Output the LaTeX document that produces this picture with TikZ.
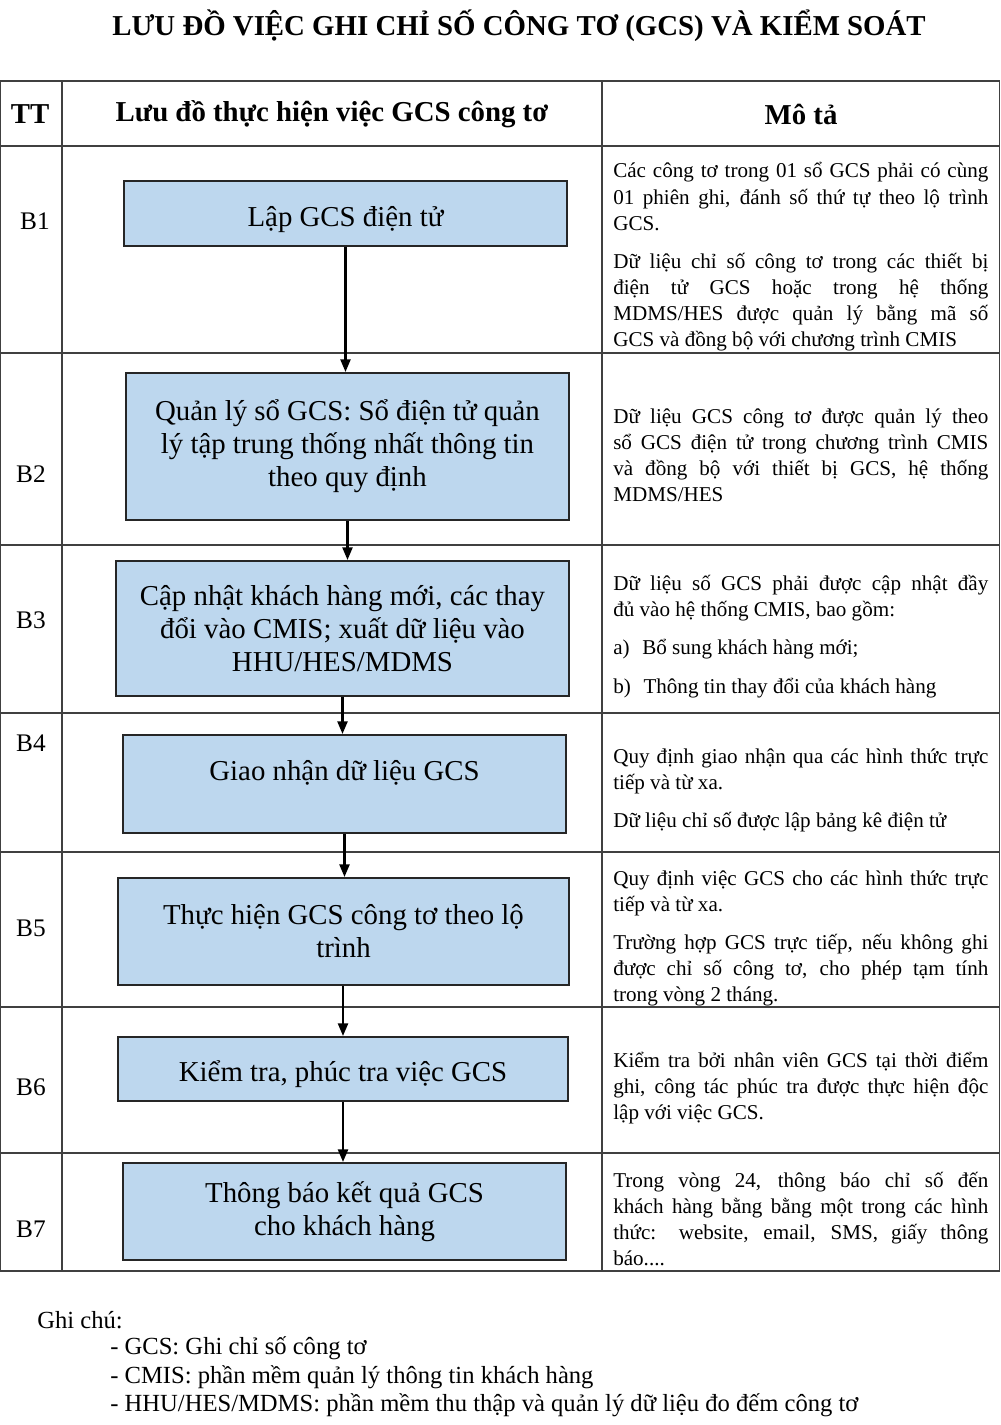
\documentclass[tikz,border=0pt]{standalone}
\usepackage{fontspec}
\setmainfont{Liberation Serif}
\usetikzlibrary{arrows.meta}
\definecolor{boxblue}{HTML}{BDD7EE}
\definecolor{rulegray}{HTML}{404040}

\begin{document}
\begin{tikzpicture}[
    x=0.025cm, y=-0.025cm,
    stepbox/.style={draw=black!85, line width=1.3pt, fill=boxblue, align=center, inner sep=2pt, font=\fontsize{20.5}{23.5}\selectfont},
    lowtext/.style={text height=0.725cm, text depth=0.1cm},
    desc/.style={anchor=base west, text width=9.375cm, align=justify, inner sep=0pt, font=\fontsize{15}{18.5}\selectfont},
    ttlabel/.style={font=\fontsize{18}{20}\selectfont},
    head/.style={font=\bfseries\fontsize{20.5}{22}\selectfont},
    note/.style={anchor=west, inner sep=0pt, font=\fontsize{17.5}{20}\selectfont},
    rule/.style={draw=rulegray, line width=1.2pt},
    flow/.style={draw, line width=1.8pt, -{Triangle[length=9pt,width=7pt]}}
  ]
    \useasboundingbox (0,0) rectangle (1000,1425);

    % title and table
    \node[font=\bfseries\fontsize{20.5}{22}\selectfont] (title) at (519,26) {LƯU ĐỒ VIỆC GHI CHỈ SỐ CÔNG TƠ (GCS) VÀ KIỂM SOÁT};
    \foreach \y in {81,146,353,545,713,852,1007,1153,1271}
      \draw[rule] (0,\y) -- (1000,\y);
    \foreach \x in {0.6,62,602,999.4}
      \draw[rule] (\x,81) -- (\x,1271);

    \node[head] (hTT) at (30,114) {TT};
    \node[head] (hflow) at (332,114) {Lưu đồ thực hiện việc GCS công tơ};
    \node[head] (hdesc) at (801,114) {Mô tả};

    % row labels
    \node[ttlabel] (t1) at (35,221) {B1};
    \node[ttlabel] (t2) at (31,474) {B2};
    \node[ttlabel] (t3) at (31,620) {B3};
    \node[ttlabel] (t4) at (31,743) {B4};
    \node[ttlabel] (t5) at (31,928) {B5};
    \node[ttlabel] (t6) at (31,1087) {B6};
    \node[ttlabel] (t7) at (31,1229) {B7};

    % flow boxes
    \node[stepbox, lowtext, minimum width=11.075cm, minimum height=1.625cm] (b1) at (345.5,213.5) {Lập GCS điện tử};
    \node[stepbox, minimum width=11.075cm, minimum height=3.675cm] (b2) at (347.5,446.5) {Quản lý sổ GCS: Sổ điện tử quản\\lý tập trung thống nhất thông tin\\theo quy định};
    \node[stepbox, minimum width=11.325cm, minimum height=3.375cm] (b3) at (342.5,628.5) {Cập nhật khách hàng mới, các thay\\đổi vào CMIS; xuất dữ liệu vào\\HHU/HES/MDMS};
    \node[stepbox, minimum width=11.075cm, minimum height=2.45cm, text depth=0.68cm] (b4) at (344.5,784) {Giao nhận dữ liệu GCS};
    \node[stepbox, minimum width=11.275cm, minimum height=2.675cm] (b5) at (343.5,931.5) {Thực hiện GCS công tơ theo lộ\\trình};
    \node[stepbox, lowtext, minimum width=11.25cm, minimum height=1.6cm] (b6) at (343,1069) {Kiểm tra, phúc tra việc GCS};
    \node[stepbox, minimum width=11.075cm, minimum height=2.425cm] (b7) at (344.5,1211.5) {Thông báo kết quả GCS\\cho khách hàng};

    \draw[flow] (b1.south) -- (b1.south |- b2.north);
    \draw[flow] (b2.south) -- (b2.south |- b3.north);
    \draw[flow] (b3.south) -- (b3.south |- b4.north);
    \draw[flow] (b4.south) -- (b4.south |- b5.north);
    \draw[flow] (b5.south -| b6.north) -- (b6.north);
    \draw[flow] (b6.south) -- (b6.south |- b7.north);

    % descriptions
    \node[desc] (d1) at (613,178) {Các công tơ trong 01 sổ GCS phải có cùng\linebreak 01 phiên ghi, đánh số thứ tự theo lộ trình\linebreak GCS.\par\vspace{9pt}Dữ liệu chỉ số công tơ trong các thiết bị\linebreak điện tử GCS hoặc trong hệ thống\linebreak MDMS/HES được quản lý bằng mã số\linebreak GCS và đồng bộ với chương trình CMIS};
    \node[desc] (d2) at (613,423) {Dữ liệu GCS công tơ được quản lý theo\linebreak sổ GCS điện tử trong chương trình CMIS\linebreak và đồng bộ với thiết bị GCS, hệ thống\linebreak MDMS/HES};
    \node[desc] (d3) at (613,590) {Dữ liệu số GCS phải được cập nhật đầy\linebreak đủ vào hệ thống CMIS, bao gồm:\par\vspace{9pt}a)\hspace{0.6em}Bổ sung khách hàng mới;\par\vspace{9pt}b)\hspace{0.6em}Thông tin thay đổi của khách hàng};
    \node[desc] (d4) at (613,763) {Quy định giao nhận qua các hình thức trực\linebreak tiếp và từ xa.\par\vspace{9pt}Dữ liệu chỉ số được lập bảng kê điện tử};
    \node[desc] (d5) at (613,885) {Quy định việc GCS cho các hình thức trực\linebreak tiếp và từ xa.\par\vspace{9pt}Trường hợp GCS trực tiếp, nếu không ghi\linebreak được chỉ số công tơ, cho phép tạm tính\linebreak trong vòng 2 tháng.};
    \node[desc] (d6) at (613,1067) {Kiểm tra bởi nhân viên GCS tại thời điểm\linebreak ghi, công tác phúc tra được thực hiện độc\linebreak lập với việc GCS.};
    \node[desc] (d7) at (613,1187) {Trong vòng 24, thông báo chỉ số đến\linebreak khách hàng bằng bằng một trong các hình\linebreak thức: website, email, SMS, giấy thông\linebreak báo....};

    % notes
    \node[note] (n0) at (37,1320) {Ghi chú:};
    \node[note] (n1) at (110,1348) {- GCS: Ghi chỉ số công tơ};
    \node[note] (n2) at (110,1377) {- CMIS: phần mềm quản lý thông tin khách hàng};
    \node[note] (n3) at (110,1405) {- HHU/HES/MDMS: phần mềm thu thập và quản lý dữ liệu đo đếm công tơ};
  \end{tikzpicture}
\end{document}
